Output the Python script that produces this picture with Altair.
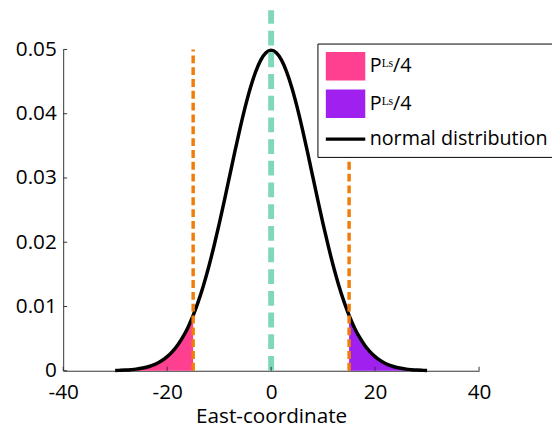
import altair as alt
import pandas as pd

# x positions (East-coordinate) and density
xs = list(range(-30, 31))
dens = [0.00004, 0.00007, 0.00011, 0.00017, 0.00025, 0.00038, 0.00055, 0.00080, 0.00114, 0.00159,
        0.00219, 0.00297, 0.00397, 0.00522, 0.00675, 0.00860, 0.01079, 0.01332, 0.01619, 0.01938,
        0.02283, 0.02649, 0.03025, 0.03401, 0.03764, 0.04102, 0.04401, 0.04648, 0.04834, 0.04948,
        0.04987,
        0.04948, 0.04834, 0.04648, 0.04401, 0.04102, 0.03764, 0.03401, 0.03025, 0.02649, 0.02283,
        0.01938, 0.01619, 0.01332, 0.01079, 0.00860, 0.00675, 0.00522, 0.00397, 0.00297, 0.00219,
        0.00159, 0.00114, 0.00080, 0.00055, 0.00038, 0.00025, 0.00017, 0.00011, 0.00007, 0.00004]

tail_limit = 15
limit_x = [-15, 15]
limit_top = [0.05, 0.05]
center_x = [0]
center_top = [0.0561]

x_ticks = [-40, -20, 0, 20, 40]
y_ticks = [0, 0.01, 0.02, 0.03, 0.04, 0.05]

series_domain = ["L", "R", "N"]
series_colors = ["#FF3F8F", "#A020F0", "#000000"]
legend_labels = {"L": "Pᴸˢ/4", "R": "Pᴸˢ/4", "N": "normal distribution"}

FONT = "Open Sans"
W, H = 422, 326

df = pd.DataFrame({"x": xs, "y": dens})
lim_df = pd.DataFrame({"x": limit_x, "y0": [0, 0], "y1": limit_top})
ctr_df = pd.DataFrame({"x": center_x, "y0": [0], "y1": center_top})
xt_df = pd.DataFrame({"x": x_ticks})
yt_df = pd.DataFrame({"y": y_ticks})

xscale = alt.Scale(domain=[-40, 40], nice=False)
yscale = alt.Scale(domain=[0, 0.05], nice=False)

xaxis = alt.Axis(values=x_ticks, title="East-coordinate", grid=False, ticks=False,
                 labelPadding=11, titlePadding=4, labelFlush=False,
                 labelExpr="toString(datum.value)")
yaxis = alt.Axis(values=y_ticks, format="~g", title=None, grid=False, ticks=False,
                 labelPadding=7)

rect_path = "M-1,-1H1.76V1H-1Z"
line_path = "M-1,-0.12H1.76V0.12H-1Z"

label_expr = " : ".join(
    [f"datum.value == '{k}' ? '{v}'" for k, v in legend_labels.items()][:-1]
) + f" : '{legend_labels['N']}'"

legend = alt.Legend(
    title=None, orient="none", legendX=258, legendY=-6,
    labelExpr=label_expr, labelLimit=400,
    labelFontSize=20, labelFont=FONT, labelColor="black",
    symbolSize=841, symbolStrokeColor="#555555", symbolStrokeWidth=1,
    strokeColor="black", fillColor="white", padding=8,
    rowPadding=4, labelOffset=15,
)

base = alt.Chart(df)

left_tail = base.transform_filter(f"datum.x <= {-tail_limit}").mark_area(
    interpolate="monotone", color=series_colors[0], opacity=1
).encode(
    x=alt.X("x:Q", scale=xscale, axis=xaxis),
    y=alt.Y("y:Q", scale=yscale, axis=yaxis),
)
right_tail = base.transform_filter(f"datum.x >= {tail_limit}").mark_area(
    interpolate="monotone", color=series_colors[1], opacity=1
).encode(
    x=alt.X("x:Q", scale=xscale),
    y=alt.Y("y:Q", scale=yscale),
)

curve = base.mark_line(interpolate="monotone", strokeWidth=3.5, color="black").encode(
    x=alt.X("x:Q", scale=xscale),
    y=alt.Y("y:Q", scale=yscale),
)

# legend carrier: no rows drawn, the legend comes from the explicit scale domains
legend_layer = base.transform_filter("false").transform_calculate(series="'N'").mark_point(
    filled=True, opacity=1
).encode(
    x=alt.X("x:Q", scale=xscale),
    y=alt.Y("y:Q", scale=yscale),
    fill=alt.Fill("series:N", scale=alt.Scale(domain=series_domain, range=series_colors), legend=legend),
    shape=alt.Shape("series:N", scale=alt.Scale(domain=series_domain, range=[rect_path, rect_path, line_path]),
                    legend=legend),
)

limits = alt.Chart(lim_df).mark_rule(color="#F07D0A", strokeWidth=3.5, strokeDash=[8, 4]).encode(
    x=alt.X("x:Q", scale=xscale),
    y=alt.Y("y0:Q", scale=yscale),
    y2="y1:Q",
)

center = alt.Chart(ctr_df).mark_rule(color="#80D8B8", strokeWidth=6, strokeDash=[15, 7]).encode(
    x=alt.X("x:Q", scale=xscale),
    y=alt.Y("y0:Q", scale=yscale),
    y2="y1:Q",
)

# inward-pointing tick marks
xticks_m = alt.Chart(xt_df).mark_rule(color="#333333", strokeWidth=1).encode(
    x=alt.X("x:Q", scale=xscale),
    y=alt.value(H), y2=alt.value(H - 4),
)
yticks_m = alt.Chart(yt_df).mark_rule(color="#333333", strokeWidth=1).encode(
    y=alt.Y("y:Q", scale=yscale),
    x=alt.value(0), x2=alt.value(4),
)

chart = alt.layer(left_tail, right_tail, curve, limits, center, xticks_m, yticks_m, legend_layer).properties(
    width=W, height=H,
    padding={"left": 56, "top": 39, "right": 74, "bottom": 55},
    autosize=alt.AutoSizeParams(type="none"),
).configure_view(stroke=None).configure_axis(
    labelFont=FONT, labelFontSize=21, labelColor="black",
    titleFont=FONT, titleFontSize=21, titleColor="black", titleFontWeight="normal",
    domainColor="#333333",
)

chart.save("out.html", embed_options={"renderer": "svg", "actions": False})
